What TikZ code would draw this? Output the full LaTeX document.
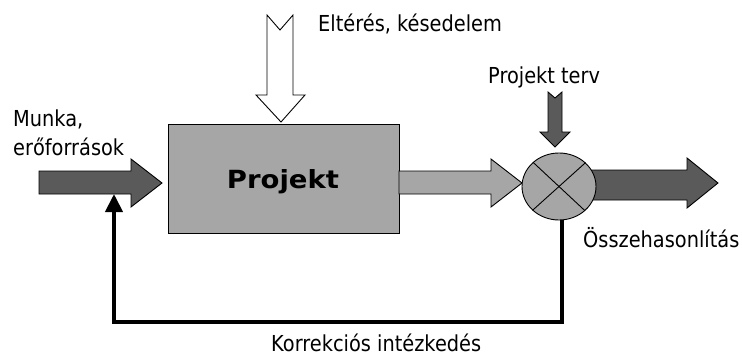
\documentclass[tikz,border=0pt]{standalone}
\usepackage{fontspec}
\setmainfont{DejaVu Sans}[FakeStretch=0.88]
\newfontfamily\headfont{DejaVu Sans}[FakeStretch=1.1]
\usetikzlibrary{arrows.meta,shapes.geometric}
\definecolor{darkfill}{RGB}{90,90,90}
\definecolor{lightfill}{RGB}{166,166,166}
\begin{document}
\begin{tikzpicture}[x=1pt,y=-1pt,
  lbl/.style={inner sep=0pt,anchor=base west,font=\fontsize{22}{26}\selectfont},
  outline/.style={draw=black,line width=0.9pt,line join=miter},
  darkarrow/.style={outline,fill=darkfill},
  lightarrow/.style={outline,fill=lightfill},
  whitearrow/.style={outline,fill=white},
  feedback/.style={line width=4pt,-{Triangle[width=17pt,length=18pt]}}]
\useasboundingbox (0,0) rectangle (742,356);

% process block
\node[outline,fill=lightfill,minimum width=231pt,minimum height=109pt,inner sep=0pt]
  (proj) at (283.5,178.5) {};
\node[inner sep=0pt,anchor=base,font=\headfont\bfseries\fontsize{25}{28}\selectfont]
  (projlbl) at (283,188) {Projekt};

% input arrow (work, resources)
\draw[darkarrow] (39,171) -- (131,171) -- (131,159) -- (162,183) -- (131,207)
  -- (131,194) -- (39,194) -- cycle;
\coordinate (inbot) at (114,194);

% disturbance arrow from above
\draw[whitearrow] (267,15) -- (280,30) -- (293,15) -- (293,95) -- (305,95)
  -- (281,122) -- (256,95) -- (267,95) -- cycle;

% output of the block into the comparator
\draw[lightarrow] (399,171) -- (491,171) -- (491,159) -- (522,183) -- (491,207)
  -- (491,194) -- (399,194) -- cycle;

% plan arrow into the comparator
\draw[darkarrow] (548,92) -- (555,98) -- (562,92) -- (562,132) -- (570,132)
  -- (555,147) -- (540,132) -- (548,132) -- cycle;

% output arrow of the comparator
\draw[darkarrow] (590,170) -- (687,170) -- (687,158) -- (718,183) -- (687,208)
  -- (687,200) -- (590,200) -- cycle;

% comparator
\node[outline,fill=lightfill,ellipse,minimum width=74pt,minimum height=67pt,inner sep=0pt]
  (cmp) at (559,186.5) {};
\draw[line width=0.9pt] (cmp.42.2) -- (cmp.222.2);
\draw[line width=0.9pt] (cmp.137.8) -- (cmp.317.8);

% corrective feedback loop
\coordinate (fbcorner) at (114,322);
\draw[feedback] ([xshift=3pt]cmp.south) |- (fbcorner) -- (inbot);

% labels
\node[lbl] (lelt) at (318,31) {Eltérés, késedelem};
\node[lbl] (lplan) at (488,83) {Projekt terv};
\node[lbl] (lmunka) at (13,126) {Munka,};
\node[lbl] (leroforr) at (13,155) {erőforrások};
\node[lbl] (losszeh) at (583,247) {Összehasonlítás};
\node[lbl] (lkorr) at (271,351) {Korrekciós intézkedés};
\end{tikzpicture}
\end{document}
